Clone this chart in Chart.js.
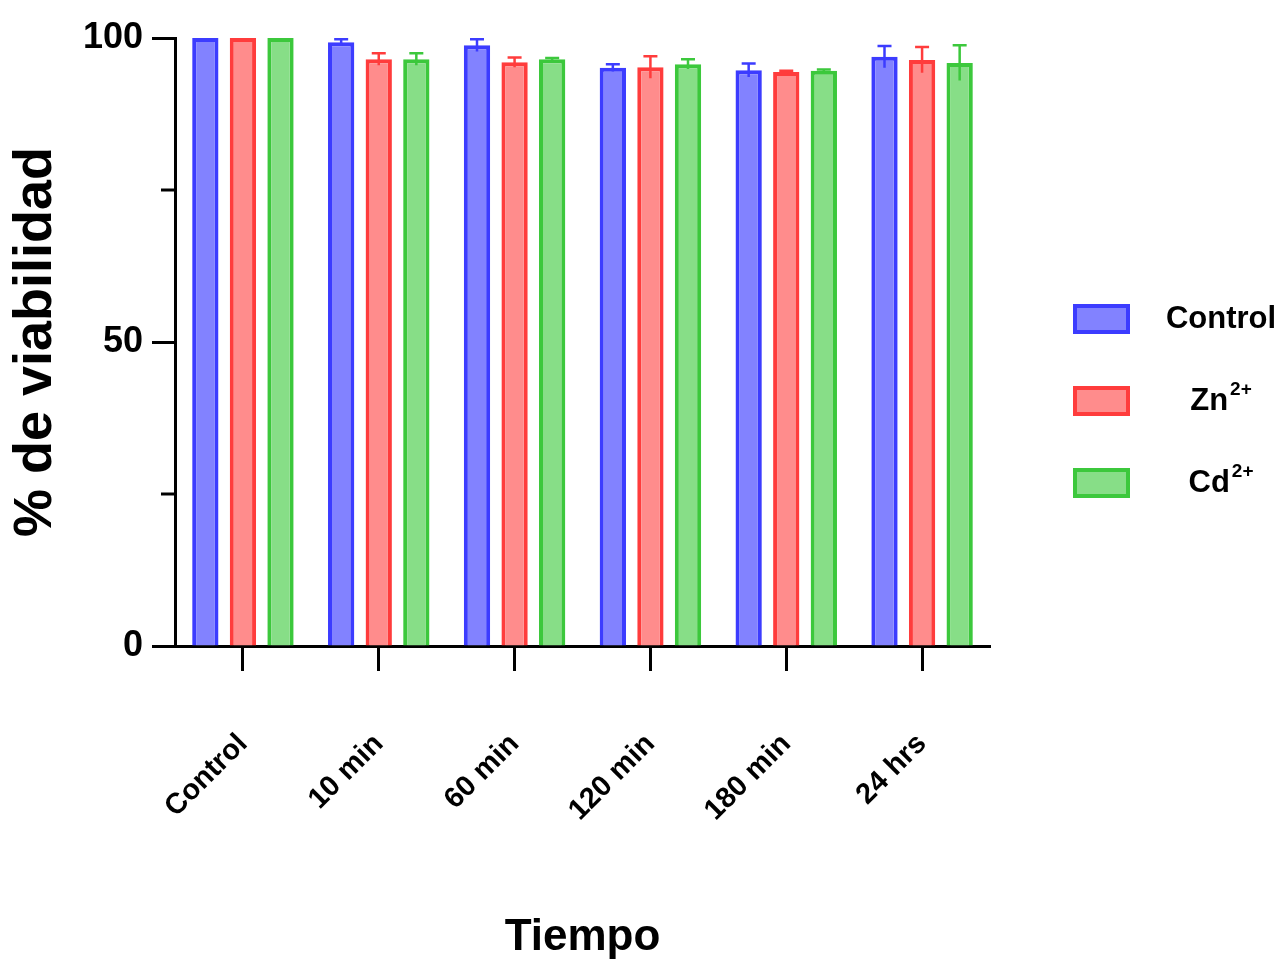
<!DOCTYPE html>
<html>
<head>
<meta charset="utf-8">
<script src="https://cdn.jsdelivr.net/npm/chart.js@4"></script>
<style>
  body { margin: 0; background: #fff; }
  #wrap { width: 1284px; height: 964px; }
</style>
</head>
<body>
<div id="wrap"><canvas id="viabChart"></canvas></div>
<script>
// data
var categories = ["Control", "10 min", "60 min", "120 min", "180 min", "24 hrs"];
var seriesNames = ["Control", "Zn", "Cd"];
var seriesSup = ["", "2+", "2+"];
var controlValues = [100, 99.3, 98.8, 95.1, 94.7, 96.9];
var znValues = [100, 96.5, 96.0, 95.2, 94.4, 96.4];
var cdValues = [100, 96.5, 96.5, 95.7, 94.6, 95.9];
var controlErr = [0, 0.5, 1.0, 0.6, 1.1, 1.8];
var znErr = [0, 1.0, 0.8, 1.8, 0.2, 2.1];
var cdErr = [0, 1.0, 0.2, 0.8, 0.2, 2.9];
var yTicksMajor = [0, 50, 100];
var yTicksMinor = [25, 75];

var FONT = "'Liberation Sans', Arial, sans-serif";

// error bars (upper whisker + cap)
var errorBars = {
  id: "errorBars",
  afterDatasetsDraw: function (chart) {
    var ctx = chart.ctx;
    var y = chart.scales.y;
    chart.data.datasets.forEach(function (ds, i) {
      var meta = chart.getDatasetMeta(i);
      meta.data.forEach(function (bar, j) {
        var err = ds.errors[j];
        if (!err) return;
        var top = y.getPixelForValue(ds.data[j] + err);
        var base = y.getPixelForValue(ds.data[j] - err);
        ctx.save();
        ctx.strokeStyle = ds.borderColor;
        ctx.lineWidth = 2.5;
        ctx.beginPath();
        ctx.moveTo(bar.x, base);
        ctx.lineTo(bar.x, top);
        ctx.moveTo(bar.x - 7, top);
        ctx.lineTo(bar.x + 7, top);
        ctx.stroke();
        ctx.restore();
      });
    });
  },
};

// short minor ticks on the y axis
var minorTicks = {
  id: "minorTicks",
  afterDraw: function (chart) {
    var ctx = chart.ctx;
    var y = chart.scales.y;
    var left = chart.chartArea.left;
    ctx.save();
    ctx.strokeStyle = "#000";
    ctx.lineWidth = 3;
    yTicksMinor.forEach(function (v) {
      var py = y.getPixelForValue(v);
      ctx.beginPath();
      ctx.moveTo(left - 14, py);
      ctx.lineTo(left, py);
      ctx.stroke();
    });
    ctx.restore();
  },
};

// legend at the right, text centred in its column
var sideLegend = {
  id: "sideLegend",
  afterDraw: function (chart) {
    var ctx = chart.ctx;
    var x0 = chart.chartArea.right + 83;
    var textCx = chart.chartArea.right + 231;
    chart.data.datasets.forEach(function (ds, i) {
      var cy = 319 + i * 82;
      ctx.save();
      ctx.fillStyle = ds.backgroundColor;
      ctx.fillRect(x0, cy - 15, 57, 30);
      ctx.strokeStyle = ds.borderColor;
      ctx.lineWidth = 4;
      ctx.strokeRect(x0 + 2, cy - 13, 53, 26);

      ctx.fillStyle = "#000";
      ctx.textBaseline = "middle";
      ctx.textAlign = "left";
      ctx.font = "bold 31px " + FONT;
      var mainW = ctx.measureText(seriesNames[i]).width;
      ctx.font = "bold 19px " + FONT;
      var supW = seriesSup[i] ? ctx.measureText(seriesSup[i]).width + 2 : 0;
      var sx = textCx - (mainW + supW) / 2;
      ctx.font = "bold 31px " + FONT;
      ctx.fillText(seriesNames[i], sx, cy);
      if (seriesSup[i]) {
        ctx.font = "bold 19px " + FONT;
        ctx.fillText(seriesSup[i], sx + mainW + 2, cy - 11);
      }
      ctx.restore();
    });
  },
};

var ctx = document.getElementById("viabChart").getContext("2d");

var chart = new Chart(ctx, {
  type: "bar",
  data: {
    labels: categories,
    datasets: [
      {
        label: seriesNames[0],
        data: controlValues,
        errors: controlErr,
        backgroundColor: "rgb(130, 130, 255)",
        borderColor: "rgb(60, 60, 255)",
        borderWidth: 4,
      },
      {
        label: seriesNames[1] + seriesSup[1],
        data: znValues,
        errors: znErr,
        backgroundColor: "rgb(255, 140, 140)",
        borderColor: "rgb(255, 60, 60)",
        borderWidth: 4,
      },
      {
        label: seriesNames[2] + seriesSup[2],
        data: cdValues,
        errors: cdErr,
        backgroundColor: "rgb(135, 222, 135)",
        borderColor: "rgb(60, 200, 60)",
        borderWidth: 4,
      },
    ],
  },
  options: {
    responsive: true,
    maintainAspectRatio: false,
    animation: false,
    layout: {
      padding: { top: 38, right: 294, bottom: 0, left: 0 },
    },
    datasets: {
      bar: {
        categoryPercentage: 0.83,
        barPercentage: 0.7,
      },
    },
    scales: {
      x: {
        grid: {
          offset: false,
          drawOnChartArea: false,
          tickLength: 25,
          tickWidth: 3,
          tickColor: "#000",
        },
        border: { display: true, color: "#000", width: 3 },
        ticks: {
          color: "#000",
          font: { family: FONT, size: 29, weight: "bold" },
          minRotation: 45,
          maxRotation: 45,
          padding: 56,
        },
        title: {
          display: true,
          text: "Tiempo",
          color: "#000",
          font: { family: FONT, size: 44, weight: "bold" },
          padding: 0,
        },
        afterFit: function (scale) {
          scale.height = 318;
        },
      },
      y: {
        min: 0,
        max: 100,
        afterBuildTicks: function (scale) {
          scale.ticks = yTicksMajor.map(function (v) { return { value: v }; });
        },
        grid: {
          drawOnChartArea: false,
          tickLength: 23,
          tickWidth: 3,
          tickColor: "#000",
        },
        border: { display: true, color: "#000", width: 3 },
        ticks: {
          color: "#000",
          font: { family: FONT, size: 36, weight: "bold" },
          padding: 9,
        },
        title: {
          display: true,
          text: "% de viabilidad",
          color: "#000",
          font: { family: FONT, size: 54, weight: "bold" },
          padding: { top: 4, bottom: 0 },
        },
        afterFit: function (scale) {
          scale.width = 175;
        },
      },
    },
    plugins: {
      legend: { display: false },
      tooltip: { enabled: false },
    },
  },
  plugins: [errorBars, minorTicks, sideLegend],
});
</script>
</body>
</html>
